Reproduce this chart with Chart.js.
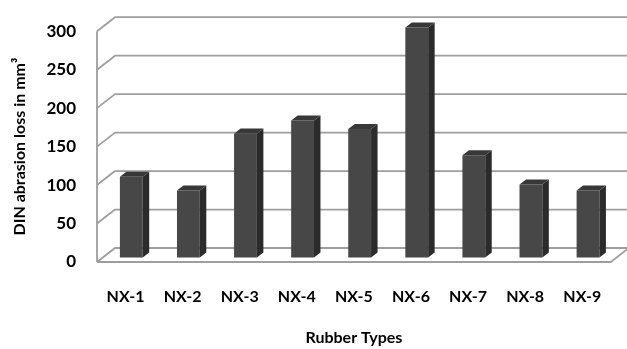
<!DOCTYPE html>
<html>
<head>
<meta charset="utf-8">
<script src="https://cdn.jsdelivr.net/npm/chart.js@4.4.1/dist/chart.umd.min.js"></script>
<style>
  html, body { margin: 0; padding: 0; background: #fff; }
  #wrap { width: 627px; height: 349px; position: relative; }
</style>
</head>
<body>
<div id="wrap"><canvas id="c" width="627" height="349"></canvas></div>
<script>
// Abrasion loss per rubber compound
const categories = ['NX-1', 'NX-2', 'NX-3', 'NX-4', 'NX-5', 'NX-6', 'NX-7', 'NX-8', 'NX-9'];
const abrasionLoss = [105, 87, 161, 178, 167, 299, 133, 95, 87];
const yTickValues = [0, 50, 100, 150, 200, 250, 300];

// Oblique depth of the plot box (back wall offset) and bar depth band
const DEPTH_X = 18, DEPTH_Y = -14;
const BAR_FRONT = 0.32, BAR_BACK = 0.68;
const FONT = 'Lato, "Open Sans", sans-serif';

const box3d = {
  id: 'box3d',
  beforeDatasetsDraw(chart) {
    const { ctx, chartArea: a, scales: { y } } = chart;
    ctx.save();
    ctx.strokeStyle = '#9e9e9e';
    ctx.lineWidth = 1.8;
    ctx.lineJoin = 'round';
    // back wall gridlines with their diagonal on the left wall
    yTickValues.forEach(v => {
      const py = y.getPixelForValue(v);
      ctx.beginPath();
      ctx.moveTo(a.left, py);
      ctx.lineTo(a.left + DEPTH_X, py + DEPTH_Y);
      ctx.lineTo(a.right + DEPTH_X, py + DEPTH_Y);
      ctx.stroke();
    });
    const top = y.getPixelForValue(yTickValues[yTickValues.length - 1]);
    const p0 = y.getPixelForValue(0);
    // left wall front edge
    ctx.beginPath();
    ctx.moveTo(a.left, top);
    ctx.lineTo(a.left, p0);
    ctx.stroke();
    // floor front and right edges
    ctx.beginPath();
    ctx.moveTo(a.left, p0);
    ctx.lineTo(a.right, p0);
    ctx.lineTo(a.right + DEPTH_X, p0 + DEPTH_Y);
    ctx.stroke();
    ctx.restore();
    // bars stand in the middle of the floor depth
    ctx.save();
    ctx.translate(DEPTH_X * BAR_FRONT, DEPTH_Y * BAR_FRONT);
  },
  afterDatasetsDraw(chart) {
    const { ctx } = chart;
    const dx = DEPTH_X * (BAR_BACK - BAR_FRONT);
    const dy = DEPTH_Y * (BAR_BACK - BAR_FRONT);
    chart.getDatasetMeta(0).data.forEach(bar => {
      const { x, y, base, width } = bar.getProps(['x', 'y', 'base', 'width'], true);
      const l = x - width / 2, r = x + width / 2;
      // side face
      ctx.fillStyle = '#2b2b2b';
      ctx.beginPath();
      ctx.moveTo(r, base);
      ctx.lineTo(r, y);
      ctx.lineTo(r + dx, y + dy);
      ctx.lineTo(r + dx, base + dy);
      ctx.closePath();
      ctx.fill();
      // top face
      ctx.fillStyle = '#383838';
      ctx.beginPath();
      ctx.moveTo(l, y);
      ctx.lineTo(r, y);
      ctx.lineTo(r + dx, y + dy);
      ctx.lineTo(l + dx, y + dy);
      ctx.closePath();
      ctx.fill();
    });
    ctx.restore();
  }
};

new Chart(document.getElementById('c'), {
  type: 'bar',
  data: {
    labels: categories,
    datasets: [{
      data: abrasionLoss,
      backgroundColor: '#474747',
      borderWidth: 0,
      categoryPercentage: 1,
      barPercentage: 0.4,
      clip: false
    }]
  },
  options: {
    responsive: false,
    animation: false,
    devicePixelRatio: 1,
    layout: { padding: { top: 25, right: 14, left: 0, bottom: 0 } },
    plugins: { legend: { display: false }, tooltip: { enabled: false } },
    scales: {
      x: {
        grid: { display: false, drawTicks: false },
        border: { display: false },
        ticks: { color: '#000', font: { family: FONT, size: 16, weight: 'bold' }, padding: 25, maxRotation: 0 },
        title: {
          display: true, text: 'Rubber Types', color: '#000',
          font: { family: FONT, size: 16, weight: 'bold' },
          padding: { top: 0, bottom: 2 }
        },
        afterFit(scale) { scale.height = 87; }
      },
      y: {
        min: 0, max: 300,
        grid: { display: false, drawTicks: false },
        border: { display: false },
        ticks: { stepSize: 50, color: '#000', font: { family: FONT, size: 17, weight: 'bold' }, padding: 21 },
        title: {
          display: true, text: 'DIN abrasion loss in mm³', color: '#000',
          font: { family: FONT, size: 16, weight: 'bold' },
          padding: { top: 10, bottom: 0 }
        },
        afterFit(scale) { scale.width = 97; }
      }
    }
  },
  plugins: [box3d]
});
</script>
</body>
</html>
